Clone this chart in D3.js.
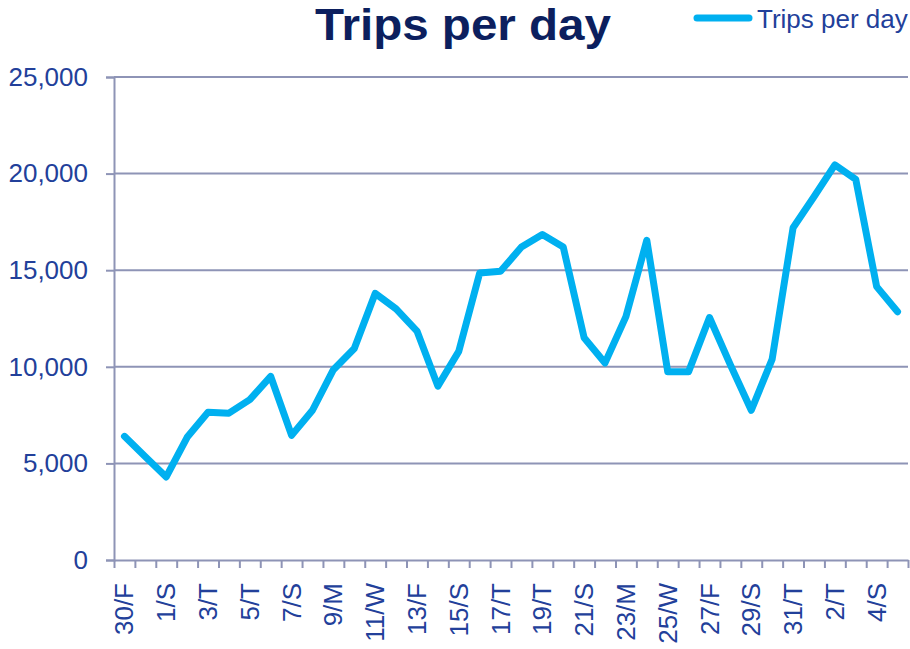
<!DOCTYPE html>
<html>
<head>
<meta charset="utf-8">
<script src="https://cdn.jsdelivr.net/npm/d3@7"></script>
<style>
  body { margin: 0; background: #fff; }
  text { font-family: Arial, "Liberation Sans", sans-serif; }
</style>
</head>
<body>
<div id="chart"></div>
<script>
// day/weekday labels, 30 Jul - 5 Sep
var days = ["30/F", "31/S", "1/S", "2/M", "3/T", "4/W", "5/T", "6/F", "7/S", "8/S",
  "9/M", "10/T", "11/W", "12/T", "13/F", "14/S", "15/S", "16/M", "17/T", "18/W",
  "19/T", "20/F", "21/S", "22/S", "23/M", "24/T", "25/W", "26/T", "27/F", "28/S",
  "29/S", "30/M", "31/T", "1/W", "2/T", "3/F", "4/S", "5/S"];

var trips = [6400, 5350, 4300, 6350, 7650, 7600, 8300, 9500, 6450, 7750,
  9850, 10950, 13800, 13000, 11850, 9000, 10800, 14850, 14950, 16200,
  16850, 16200, 11500, 10200, 12600, 16550, 9750, 9750, 12550, 10100,
  7750, 10400, 17200, 18800, 20450, 19700, 14150, 12850];

var yTicks = [0, 5000, 10000, 15000, 20000, 25000];

var seriesName = "Trips per day";

var width = 910, height = 649;
var margin = { top: 77, right: 2, bottom: 89, left: 114 };

var svg = d3.select("#chart")
  .append("svg")
  .attr("width", width)
  .attr("height", height);

var x = d3.scaleBand()
  .domain(days)
  .range([margin.left, width - margin.right]);

var y = d3.scaleLinear()
  .domain([0, 25000])
  .range([height - margin.bottom, margin.top]);

var axisColor = "#8e94b6";
var labelColor = "#22409a";

// gridlines
svg.append("g")
  .selectAll("line")
  .data(yTicks.slice(1))
  .enter()
  .append("line")
  .attr("x1", margin.left)
  .attr("x2", width - margin.right)
  .attr("y1", function (d) { return y(d); })
  .attr("y2", function (d) { return y(d); })
  .attr("stroke", axisColor)
  .attr("stroke-width", 2);

// Y axis
var yAxis = svg.append("g")
  .attr("transform", "translate(" + margin.left + ",0)")
  .call(d3.axisLeft(y)
    .tickValues(yTicks)
    .tickSize(8)
    .tickPadding(18)
    .tickFormat(d3.format(",")));

yAxis.select(".domain").attr("stroke", axisColor).attr("stroke-width", 2);
yAxis.selectAll(".tick line").attr("stroke", axisColor).attr("stroke-width", 2);
yAxis.selectAll(".tick text")
  .attr("fill", labelColor)
  .style("font-size", "26px");

// X axis: ticks on band boundaries
var xi = d3.scaleLinear()
  .domain([0, days.length])
  .range(x.range());

var xAxis = svg.append("g")
  .attr("transform", "translate(0," + y(0) + ")")
  .call(d3.axisBottom(xi)
    .tickValues(d3.range(days.length + 1))
    .tickSize(8)
    .tickSizeOuter(0)
    .tickFormat(""));

xAxis.select(".domain").attr("stroke", axisColor).attr("stroke-width", 2);
xAxis.selectAll(".tick line").attr("stroke", axisColor).attr("stroke-width", 2);

// x labels, every other day
svg.append("g")
  .selectAll("text")
  .data(days.filter(function (d, i) { return i % 2 == 0; }))
  .enter()
  .append("text")
  .attr("transform", function (d) {
    return "translate(" + (x(d) + x.bandwidth() / 2 + 9) + "," + (y(0) + 23) + ") rotate(-90)";
  })
  .attr("text-anchor", "end")
  .attr("fill", labelColor)
  .style("font-size", "26px")
  .text(function (d) { return d; });

// line
var line = d3.line()
  .x(function (d, i) { return x(days[i]) + x.bandwidth() / 2; })
  .y(function (d) { return y(d); });

svg.append("path")
  .datum(trips)
  .attr("d", line)
  .attr("fill", "none")
  .attr("stroke", "#00b0f0")
  .attr("stroke-width", 7)
  .attr("stroke-linejoin", "round")
  .attr("stroke-linecap", "round");

// title
svg.append("text")
  .attr("x", 315)
  .attr("y", 40)
  .attr("textLength", 296)
  .attr("lengthAdjust", "spacingAndGlyphs")
  .attr("fill", "#0c1f5e")
  .style("font-size", "44px")
  .style("font-weight", "bold")
  .text(seriesName);

// legend
svg.append("line")
  .attr("x1", 697)
  .attr("x2", 749)
  .attr("y1", 18)
  .attr("y2", 18)
  .attr("stroke", "#00b0f0")
  .attr("stroke-width", 7)
  .attr("stroke-linecap", "round");

svg.append("text")
  .attr("x", 757)
  .attr("y", 28)
  .attr("fill", labelColor)
  .style("font-size", "26px")
  .text(seriesName);
</script>
</body>
</html>
